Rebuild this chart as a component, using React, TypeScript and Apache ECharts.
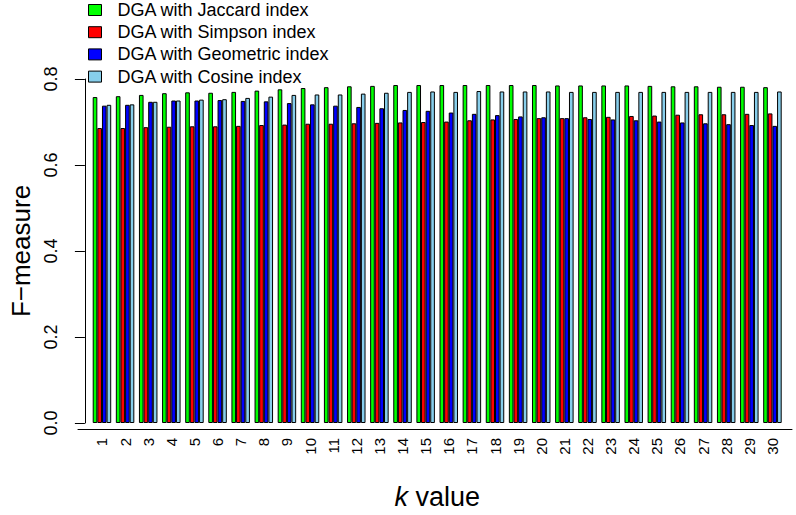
import React, { useEffect, useRef } from "react";
import * as echarts from "echarts";

const categories = Array.from({ length: 30 }, (_, i) => String(i + 1));

const jaccard = [0.758, 0.760, 0.763, 0.767, 0.769, 0.768, 0.770, 0.773, 0.776, 0.779, 0.781, 0.783, 0.784, 0.786, 0.786, 0.786, 0.786, 0.786, 0.786, 0.786, 0.785, 0.785, 0.785, 0.785, 0.784, 0.783, 0.783, 0.782, 0.782, 0.781];
const simpson = [0.686, 0.686, 0.688, 0.689, 0.690, 0.690, 0.691, 0.693, 0.694, 0.696, 0.696, 0.697, 0.698, 0.699, 0.700, 0.701, 0.704, 0.706, 0.707, 0.709, 0.709, 0.711, 0.712, 0.714, 0.715, 0.717, 0.718, 0.718, 0.719, 0.720];
const geometric = [0.738, 0.740, 0.747, 0.750, 0.750, 0.751, 0.749, 0.748, 0.744, 0.741, 0.738, 0.735, 0.732, 0.728, 0.726, 0.722, 0.719, 0.716, 0.713, 0.711, 0.709, 0.707, 0.706, 0.704, 0.701, 0.699, 0.697, 0.695, 0.693, 0.691];
const cosine = [0.740, 0.741, 0.747, 0.750, 0.752, 0.753, 0.756, 0.759, 0.763, 0.764, 0.764, 0.766, 0.768, 0.770, 0.771, 0.770, 0.772, 0.771, 0.771, 0.771, 0.770, 0.770, 0.770, 0.770, 0.770, 0.770, 0.770, 0.770, 0.770, 0.771];

const seriesNames = [
  "DGA with Jaccard index",
  "DGA with Simpson index",
  "DGA with Geometric index",
  "DGA with Cosine index",
];
const seriesColors = ["#00FF00", "#FF0000", "#0000FF", "#87CEEB"];
const seriesData = [jaccard, simpson, geometric, cosine];

const FONT = "'Liberation Sans', Arial, Helvetica, sans-serif";

export default function App() {
  const ref = useRef<HTMLDivElement>(null);
  useEffect(() => {
    if (!ref.current) return;
    const chart = echarts.init(ref.current, null, { renderer: "svg" });
    chart.setOption({
      animation: false,
      backgroundColor: "#ffffff",
      textStyle: { fontFamily: FONT, color: "#000" },
      legend: {
        orient: "vertical",
        left: 88,
        top: -1,
        padding: 0,
        itemGap: 0.2,
        itemWidth: 13,
        itemHeight: 11,
        icon: "rect",
        itemStyle: { borderColor: "#000", borderWidth: 1 },
        textStyle: { fontSize: 18, lineHeight: 22, color: "#000", fontFamily: FONT, padding: [0, 0, 0, 11] },
        data: seriesNames,
      },
      grid: [
        { left: 83.5, right: 12, top: 79, bottom: 86 },
        { left: 78, right: 4, top: 79, bottom: 86 },
      ],
      xAxis: [
        {
          type: "category",
          gridIndex: 0,
          data: categories,
          axisLine: { show: false },
          axisTick: { show: false },
          axisLabel: { rotate: 90, fontSize: 15, color: "#000", margin: 15, interval: 0, fontFamily: FONT },
          name: "{i|k} value",
          nameLocation: "middle",
          nameGap: 60,
          nameTextStyle: {
            fontSize: 27,
            color: "#000",
            fontFamily: FONT,
            rich: { i: { fontStyle: "italic", fontSize: 27, fontFamily: FONT, color: "#000" } },
          },
        },
        {
          type: "value",
          gridIndex: 1,
          min: 0,
          max: 1,
          axisLine: { show: true, onZero: false, lineStyle: { color: "#000", width: 1 } },
          axisTick: { show: false },
          axisLabel: { show: false },
          splitLine: { show: false },
        },
      ],
      yAxis: [
        {
          type: "value",
          gridIndex: 0,
          min: 0,
          max: 0.8,
          interval: 0.2,
          offset: 5.5,
          axisLine: { show: true, lineStyle: { color: "#000", width: 1 } },
          axisTick: { show: true, length: 10, lineStyle: { color: "#000", width: 1 } },
          axisLabel: {
            rotate: 90,
            fontSize: 18,
            margin: 25,
            color: "#000",
            fontFamily: FONT,
            formatter: (v: number) => v.toFixed(1),
          },
          splitLine: { show: false },
          name: "F\u2212measure",
          nameLocation: "middle",
          nameGap: 42,
          nameTextStyle: { fontSize: 26, color: "#000", fontFamily: FONT },
        },
        { type: "value", gridIndex: 1, min: 0, max: 0.8, show: false },
      ],
      series: seriesNames.map((name, i) => ({
        name,
        type: "bar",
        xAxisIndex: 0,
        yAxisIndex: 0,
        data: seriesData[i],
        barWidth: "20%",
        barGap: "0%",
        itemStyle: { color: seriesColors[i], borderColor: "#000", borderWidth: 1 },
      })),
    });
    return () => chart.dispose();
  }, []);
  return (
    <div
      ref={ref}
      style={{ position: "fixed", left: 0, top: 0, width: 796, height: 515 }}
    />
  );
}
